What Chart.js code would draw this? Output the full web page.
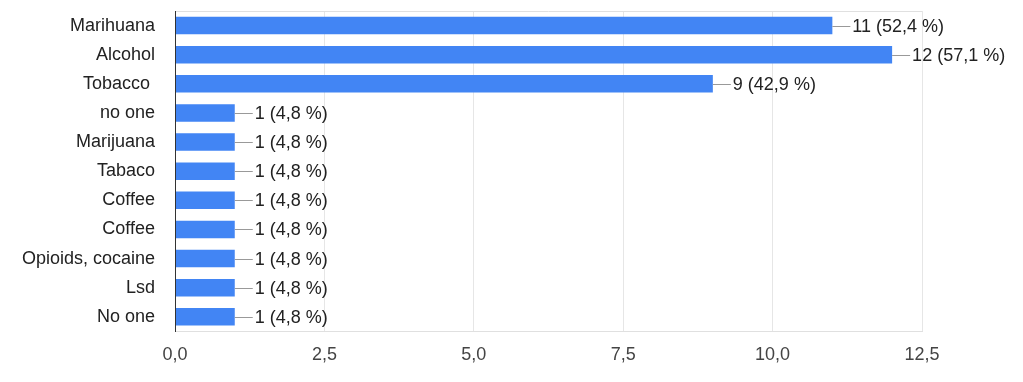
<!doctype html>
<html lang="en">

<head>
    <title>Substances chart</title>
    <meta charset="utf-8">
    <style type="text/css">
        body,
        html {
            margin: 0;
            padding: 0;
            background: #fff;
            overflow: hidden;
        }
    </style>
    <script type="text/javascript" src="https://cdn.jsdelivr.net/npm/chart.js@4/dist/chart.umd.min.js"></script>
</head>

<body>
    <canvas id="chart" width="1023" height="382"></canvas>
    <script>
        const categories = [
            "Marihuana", "Alcohol", "Tobacco ", "no one", "Marijuana", "Tabaco",
            "Coffee", "Coffee", "Opioids, cocaine", "Lsd", "No one",
        ];
        const counts = [11, 12, 9, 1, 1, 1, 1, 1, 1, 1, 1];
        const respondents = 21;
        const xTicks = [0, 2.5, 5, 7.5, 10, 12.5];

        const font = "'Liberation Sans', Arial, Helvetica, sans-serif";
        const fmt = (v) => v.toFixed(1).replace(".", ",");

        // value labels with the little connector line
        const valueLabels = {
            id: "valueLabels",
            beforeDatasetsDraw(chart) {
                const a = chart.chartArea;
                const ctx = chart.ctx;
                ctx.save();
                ctx.strokeStyle = "#e0e0e0";
                ctx.lineWidth = 1;
                ctx.beginPath();
                ctx.moveTo(a.left, Math.round(a.top) + 0.5);
                ctx.lineTo(a.right, Math.round(a.top) + 0.5);
                ctx.stroke();
                ctx.restore();
            },
            afterDatasetsDraw(chart) {
                const ctx = chart.ctx;
                const meta = chart.getDatasetMeta(0);
                ctx.save();
                ctx.font = "18px " + font;
                ctx.textBaseline = "middle";
                ctx.textAlign = "left";
                meta.data.forEach((bar, i) => {
                    const v = counts[i];
                    const y = Math.round(bar.y) + 0.5;
                    ctx.strokeStyle = "#999";
                    ctx.lineWidth = 1;
                    ctx.beginPath();
                    ctx.moveTo(bar.x, y);
                    ctx.lineTo(bar.x + 18, y);
                    ctx.stroke();
                    ctx.fillStyle = "#222";
                    const pct = fmt(v / respondents * 100);
                    ctx.fillText(v + " (" + pct + " %)", bar.x + 20, bar.y + 1);
                });
                // dark left axis on top of bars
                const a = chart.chartArea;
                ctx.strokeStyle = "#333";
                ctx.beginPath();
                ctx.moveTo(a.left + 0.5, a.top);
                ctx.lineTo(a.left + 0.5, a.bottom);
                ctx.stroke();
                ctx.restore();
            },
        };

        const ctx = document.getElementById("chart").getContext("2d");
        new Chart(ctx, {
            type: "bar",
            data: {
                labels: categories,
                datasets: [{
                    data: counts,
                    backgroundColor: "#4285f4",
                    categoryPercentage: 1,
                    barPercentage: 0.6,
                }, ],
            },
            options: {
                indexAxis: "y",
                responsive: false,
                animation: false,
                layout: {
                    padding: { top: 11, right: 101, bottom: 3, left: 0 },
                },
                plugins: {
                    legend: { display: false },
                    tooltip: { enabled: false },
                },
                scales: {
                    x: {
                        min: 0,
                        max: 12.5,
                        afterBuildTicks: (s) => {
                            s.ticks = xTicks.map((v) => ({ value: v }));
                        },
                        grid: { color: "#e6e6e6", drawTicks: false },
                        border: { color: "#e0e0e0" },
                        ticks: {
                            padding: 13,
                            color: "#444",
                            font: { family: font, size: 18 },
                            callback: (v) => fmt(v),
                        },
                    },
                    y: {
                        afterFit: (s) => {
                            s.width = 175;
                            s.paddingTop = 0;
                            s.paddingBottom = 0;
                        },
                        grid: { display: false, drawTicks: false },
                        border: { color: "#333" },
                        ticks: {
                            padding: 20,
                            color: "#222",
                            font: { family: font, size: 18 },
                            autoSkip: false,
                        },
                    },
                },
            },
            plugins: [valueLabels],
        });
    </script>
</body>

</html>
